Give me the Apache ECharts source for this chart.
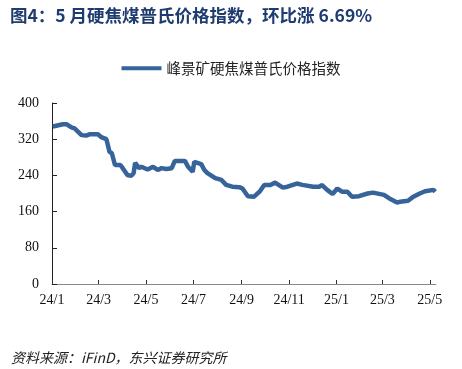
<!DOCTYPE html>
<html>
<head>
<meta charset="utf-8">
<script src="https://cdn.jsdelivr.net/npm/echarts@6/dist/echarts.min.js"></script>
<style>
  html, body { margin: 0; padding: 0; background: #fff; }
  #chart { width: 462px; height: 369px; }
</style>
</head>
<body>
<div id="chart"></div>
<script>
// 峰景矿硬焦煤普氏价格指数 (readings)
const dates = [
  '2024-01-02', '2024-01-15', '2024-01-20', '2024-01-26', '2024-01-30', '2024-02-08', '2024-02-14', '2024-02-19',
  '2024-02-29', '2024-03-05', '2024-03-11', '2024-03-15', '2024-03-18', '2024-03-22', '2024-03-29', '2024-04-01',
  '2024-04-07', '2024-04-12', '2024-04-15', '2024-04-17', '2024-04-19', '2024-04-22', '2024-04-25', '2024-05-03',
  '2024-05-10', '2024-05-16', '2024-05-21', '2024-05-27', '2024-06-03', '2024-06-07', '2024-06-20', '2024-06-24',
  '2024-06-30', '2024-07-02', '2024-07-11', '2024-07-15', '2024-07-19', '2024-07-29', '2024-08-06', '2024-08-12',
  '2024-08-20', '2024-08-29', '2024-09-02', '2024-09-09', '2024-09-17', '2024-09-24', '2024-09-30', '2024-10-08',
  '2024-10-14', '2024-10-24', '2024-10-30', '2024-11-11', '2024-11-18', '2024-12-02', '2024-12-10', '2024-12-13',
  '2024-12-20', '2024-12-27', '2025-01-02', '2025-01-08', '2025-01-15', '2025-01-21', '2025-01-30', '2025-02-10',
  '2025-02-17', '2025-03-03', '2025-03-10', '2025-03-20', '2025-03-24', '2025-04-03', '2025-04-10', '2025-04-18',
  '2025-04-25', '2025-05-06', '2025-05-08'
];
const prices = [
  348, 353, 353, 346, 344, 329, 328, 331,
  331, 324, 320, 292, 289, 263, 263, 256,
  241, 239, 245, 268, 270, 256, 259, 253,
  259, 252, 256, 254, 256, 272, 272, 259,
  248, 270, 265, 252, 245, 234, 230, 219,
  215, 214, 211, 194, 193, 204, 219, 219,
  224, 213, 215, 222, 219, 215, 215, 219,
  208, 199, 211, 204, 204, 193, 194, 200,
  202, 197, 189, 180, 182, 184, 193, 200,
  205, 208, 204
];
const xTickDates = ['2024-01-01', '2024-03-01', '2024-05-01', '2024-07-01', '2024-09-01',
                    '2024-11-01', '2025-01-01', '2025-03-01', '2025-05-01'];
const xTickLabels = ['24/1', '24/3', '24/5', '24/7', '24/9', '24/11', '25/1', '25/3', '25/5'];
const seriesName = '峰景矿硬焦煤普氏价格指数';

const ts = s => new Date(s + 'T00:00:00').getTime();
const tickTs = xTickDates.map(ts);
const labelMap = {};
tickTs.forEach((t, i) => { labelMap[t] = xTickLabels[i]; });

const chart = echarts.init(document.getElementById('chart'));
chart.setOption({
  animation: false,
  title: [{
    text: '图4：5 月硬焦煤普氏价格指数，环比涨 6.69%',
    left: 5,
    top: 2,
    textStyle: {
      fontFamily: 'Noto Sans CJK SC',
      fontSize: 17.5,
      fontWeight: 'bold',
      color: '#1f3c70'
    }
  }, {
    text: '资料来源：iFinD，东兴证券研究所',
    left: 6,
    top: 346,
    textStyle: {
      fontFamily: 'Noto Sans CJK SC',
      fontSize: 14,
      fontStyle: 'italic',
      fontWeight: 'normal',
      color: '#222'
    }
  }],
  legend: {
    top: 56,
    left: 'center',
    itemWidth: 40,
    itemHeight: 12,
    itemGap: 4,
    textStyle: {
      fontFamily: 'Noto Sans CJK SC',
      fontSize: 14.5,
      color: '#222'
    },
    data: [{ name: seriesName, icon: 'path://M0,5 L40,5 L40,9 L0,9 Z' }]
  },
  grid: {
    left: 52,
    right: 26,
    top: 103,
    bottom: 85
  },
  xAxis: {
    type: 'value',
    min: ts('2024-01-01'),
    max: ts('2025-05-09'),
    axisLine: { lineStyle: { color: '#888', width: 1 } },
    axisTick: {
      inside: true,
      length: 4,
      customValues: tickTs,
      lineStyle: { color: '#333' }
    },
    axisLabel: {
      customValues: tickTs,
      formatter: v => labelMap[v] || '',
      fontFamily: 'Liberation Serif',
      fontSize: 14,
      color: '#111',
      margin: 9,
      hideOverlap: false
    },
    splitLine: { show: false }
  },
  yAxis: {
    type: 'value',
    min: 0,
    max: 400,
    interval: 80,
    axisLine: { show: true, lineStyle: { color: '#222', width: 1 } },
    axisTick: { show: true, inside: true, length: 5, lineStyle: { color: '#222' } },
    axisLabel: {
      fontFamily: 'Liberation Serif',
      fontSize: 14,
      color: '#111',
      margin: 13
    },
    splitLine: { show: false }
  },
  series: [{
    name: seriesName,
    type: 'line',
    data: dates.map((d, i) => [ts(d), prices[i]]),
    showSymbol: false,
    symbol: 'none',
    itemStyle: { color: '#36639a' },
    lineStyle: { color: '#36639a', width: 4.5 }
  }]
});
</script>
</body>
</html>
